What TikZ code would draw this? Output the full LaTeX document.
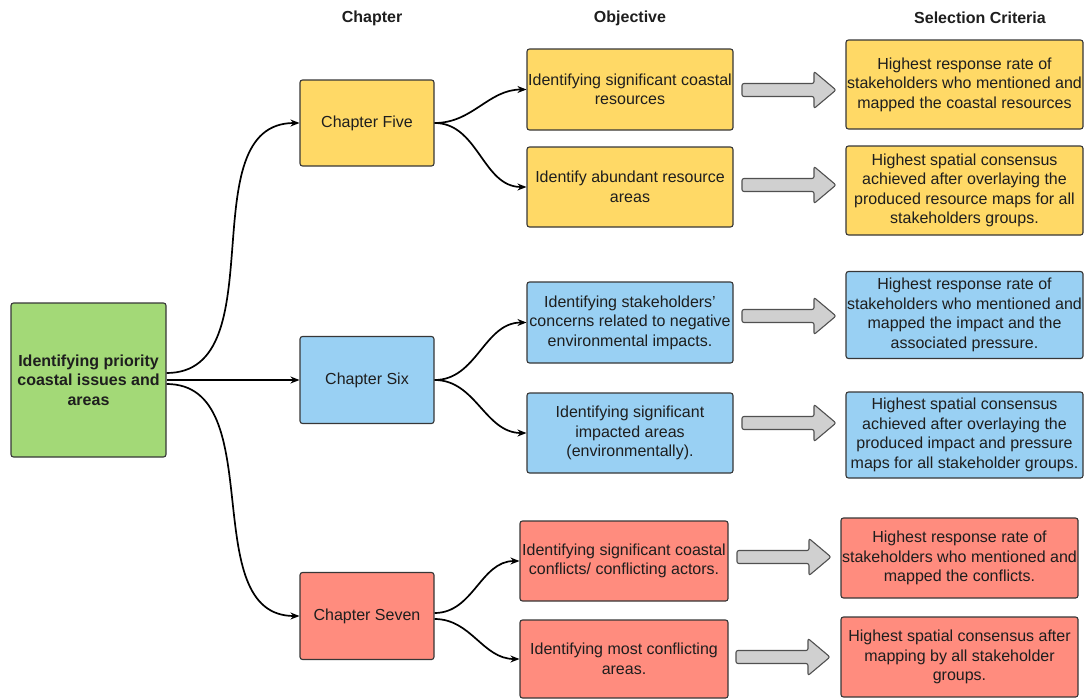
\documentclass[tikz,border=0pt]{standalone}
\usepackage{fontspec}
\setmainfont{Liberation Sans}
\usetikzlibrary{arrows.meta}
\definecolor{boxline}{RGB}{55,55,55}
\definecolor{txt}{RGB}{30,30,30}
\definecolor{greenfill}{RGB}{163,217,119}
\definecolor{yellowfill}{RGB}{255,217,102}
\definecolor{bluefill}{RGB}{153,208,243}
\definecolor{redfill}{RGB}{255,140,126}
\definecolor{arrowfill}{RGB}{208,208,208}
\definecolor{arrowline}{RGB}{80,80,80}
\tikzset{
  box/.style={draw=boxline, line width=1.1pt, rounded corners=2.5pt, align=center,
    inner sep=0pt, text=txt, font=\fontsize{16}{19.5}\selectfont},
  rootbox/.style={box, fill=greenfill, font=\fontsize{16}{19.5}\selectfont\bfseries},
  ybox/.style={box, fill=yellowfill},
  bbox/.style={box, fill=bluefill},
  rbox/.style={box, fill=redfill},
  header/.style={font=\fontsize{16}{19}\selectfont\bfseries, text=txt},
  conn/.style={draw=black, line width=1.7pt, -{Stealth[length=9pt,width=7pt]}},
  garrow/.pic={
    \draw[fill=arrowfill, draw=arrowline, line width=1.1pt, rounded corners=2pt]
      (0,-6.5) -- (72,-6.5) -- (72,-18.5) -- (94,0) -- (72,18.5) -- (72,6.5) -- (0,6.5) -- cycle;
  }
}
\begin{document}
\begin{tikzpicture}[x=1pt, y=-1pt]
\useasboundingbox (0,0) rectangle (1090,699);

% column headings
\node[header] (hch)  at (372,18) {Chapter};
\node[header] (hobj) at (630,18) {Objective};
\node[header] (hsel) at (980,18) {Selection Criteria};

% main topic
\node[rootbox, minimum width=155pt, minimum height=154pt] (root) at (88.5,380)
  {Identifying priority\\coastal issues and\\areas};

% chapters
\node[ybox, minimum width=134pt, minimum height=86pt] (ch5) at (367,123) {Chapter Five};
\node[bbox, minimum width=134pt, minimum height=87pt] (ch6) at (367,380) {Chapter Six};
\node[rbox, minimum width=134pt, minimum height=87pt] (ch7) at (367,616) {Chapter Seven};

% objectives
\node[ybox, minimum width=206pt, minimum height=81pt] (o1) at (630,89.5)
  {Identifying significant coastal\\resources};
\node[ybox, minimum width=206pt, minimum height=80pt] (o2) at (630,187)
  {Identify abundant resource\\areas};
\node[bbox, minimum width=206pt, minimum height=81pt] (o3) at (630,322.5)
  {Identifying stakeholders'\\concerns related to negative\\environmental impacts.};
\node[bbox, minimum width=206pt, minimum height=80pt] (o4) at (630,433)
  {Identifying significant\\impacted areas\\(environmentally).};
\node[rbox, minimum width=208pt, minimum height=80pt] (o5) at (624,561)
  {Identifying significant coastal\\conflicts/ conflicting actors.};
\node[rbox, minimum width=208pt, minimum height=78pt] (o6) at (624,659)
  {Identifying most conflicting\\areas.};

% selection criteria
\node[ybox, minimum width=237pt, minimum height=89pt] (c1) at (964.5,84.5)
  {Highest response rate of\\stakeholders who mentioned and\\mapped the coastal resources};
\node[ybox, minimum width=237pt, minimum height=89pt] (c2) at (964.5,190.5)
  {Highest spatial consensus\\achieved after overlaying the\\produced resource maps for all\\stakeholders groups.};
\node[bbox, minimum width=237pt, minimum height=87pt] (c3) at (964.5,315)
  {Highest response rate of\\stakeholders who mentioned and\\mapped the impact and the\\associated pressure.};
\node[bbox, minimum width=237pt, minimum height=86pt] (c4) at (964.5,435)
  {Highest spatial consensus\\achieved after overlaying the\\produced impact and pressure\\maps for all stakeholder groups.};
\node[rbox, minimum width=237pt, minimum height=80pt] (c5) at (959.5,558)
  {Highest response rate of\\stakeholders who mentioned and\\mapped the conflicts.};
\node[rbox, minimum width=237pt, minimum height=80pt] (c6) at (959.5,657)
  {Highest spatial consensus after\\mapping by all stakeholder\\groups.};

% block arrows between objectives and criteria
\pic at (742,90) {garrow};
\pic at (742,185) {garrow};
\pic at (742,316) {garrow};
\pic at (742,423) {garrow};
\pic at (737,557) {garrow};
\pic at (736,657) {garrow};

% connectors from the main topic to the chapters
\draw[conn] ([yshift=7pt]root.east) to[out=0, in=180] (ch5.west);
\draw[conn] (root.east) -- (ch6.west);
\draw[conn] ([yshift=-4pt]root.east) to[out=0, in=180] (ch7.west);

% connectors from chapters to objectives
\draw[conn] (ch5.east) to[out=0, in=180] (o1.west);
\draw[conn] (ch5.east) to[out=0, in=180] (o2.west);
\draw[conn] (ch6.east) to[out=0, in=180] (o3.west);
\draw[conn] (ch6.east) to[out=0, in=180] (o4.west);
\draw[conn] ([yshift=3pt]ch7.east) to[out=0, in=180] (o5.west);
\draw[conn] ([yshift=-3pt]ch7.east) to[out=0, in=180] (o6.west);
\end{tikzpicture}
\end{document}
